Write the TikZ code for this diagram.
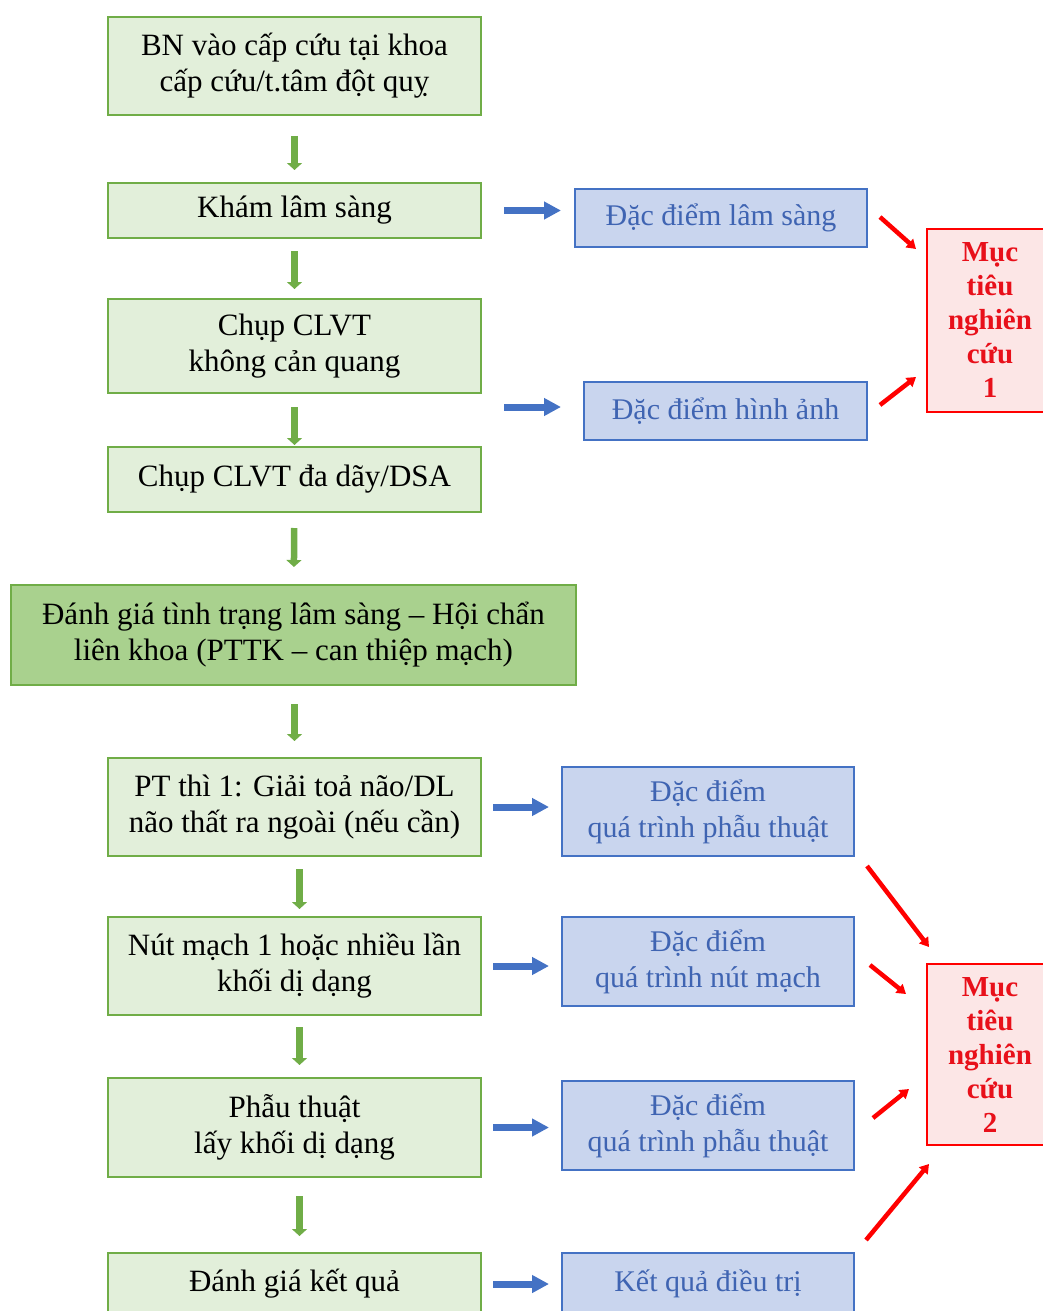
\documentclass[tikz,border=0pt]{standalone}
\usepackage{fontspec}
\setmainfont{Liberation Serif}
\usetikzlibrary{arrows.meta}
\definecolor{gfill}{HTML}{E2EFDA}
\definecolor{gdark}{HTML}{A9D18E}
\definecolor{gline}{HTML}{70AD47}
\definecolor{bfill}{HTML}{C9D5EE}
\definecolor{bline}{HTML}{4472C4}
\definecolor{btext}{HTML}{3F64B2}
\definecolor{rfill}{HTML}{FCE6E6}
\definecolor{rline}{HTML}{FF0000}
\definecolor{rtext}{HTML}{E8101A}
\tikzset{
  gbox/.style={draw=gline, line width=2pt, fill=gfill, align=center, inner sep=0pt,
    font=\fontsize{31}{36}\selectfont, text=black},
  bbox/.style={draw=bline, line width=2pt, fill=bfill, align=center, inner sep=0pt,
    font=\fontsize{30}{36}\selectfont, text=btext},
  rbox/.style={draw=rline, line width=2pt, fill=rfill, align=center, inner sep=0pt,
    font=\fontsize{29}{34}\selectfont\bfseries, text=rtext},
  garrow/.style={draw=gline, line width=6.5pt, -{Triangle[length=7pt,width=15pt]}},
  barrow/.style={draw=bline, line width=7pt, -{Triangle[length=17pt,width=17pt]}},
  rarrow/.style={draw=rline, line width=4.5pt, -{Triangle[length=9pt,width=11pt]}},
}
\begin{document}
\begin{tikzpicture}[x=1pt,y=-1pt]
\useasboundingbox (0,0) rectangle (1043,1311);
\clip (0,0) rectangle (1043,1311);
% green boxes
\node[gbox, minimum width=373pt, minimum height=98pt] (n1) at (294.5,66) {BN vào cấp cứu tại khoa\\cấp cứu/t.tâm đột quỵ};
\node[gbox, minimum width=373pt, minimum height=55pt] (n2) at (294.5,210.5) {Khám lâm sàng};
\node[gbox, minimum width=373pt, minimum height=94pt] (n3) at (294.5,346) {Chụp CLVT\\không cản quang};
\node[gbox, minimum width=373pt, minimum height=65pt] (n4) at (294.5,479.5) {Chụp CLVT đa dãy/DSA};
\node[gbox, fill=gdark, minimum width=565pt, minimum height=100pt] (n5) at (293.5,635) {Đánh giá tình trạng lâm sàng – Hội chẩn\\liên khoa (PTTK – can thiệp mạch)};
\node[gbox, minimum width=373pt, minimum height=98pt] (n6) at (294.5,807) {PT thì 1: Giải toả não/DL\\não thất ra ngoài (nếu cần)};
\node[gbox, minimum width=373pt, minimum height=98pt] (n7) at (294.5,966) {Nút mạch 1 hoặc nhiều lần\\khối dị dạng};
\node[gbox, minimum width=373pt, minimum height=99pt] (n8) at (294.5,1127.5) {Phẫu thuật\\lấy khối dị dạng};
\node[gbox, minimum width=373pt, minimum height=62pt] (n9) at (294.5,1284) {Đánh giá kết quả};
% blue boxes
\node[bbox, minimum width=292pt, minimum height=58pt] (b1) at (721,218) {Đặc điểm lâm sàng};
\node[bbox, minimum width=283pt, minimum height=58pt] (b2) at (725.5,411) {Đặc điểm hình ảnh};
\node[bbox, minimum width=292pt, minimum height=89pt] (b3) at (708,811.5) {Đặc điểm\\quá trình phẫu thuật};
\node[bbox, minimum width=292pt, minimum height=89pt] (b4) at (708,961.5) {Đặc điểm\\quá trình nút mạch};
\node[bbox, minimum width=292pt, minimum height=89pt] (b5) at (708,1125.5) {Đặc điểm\\quá trình phẫu thuật};
\node[bbox, minimum width=292pt, minimum height=62pt] (b6) at (708,1284) {Kết quả điều trị};
% red boxes
\node[rbox, minimum width=126pt, minimum height=183pt] (r1) at (990,320.5) {Mục\\tiêu\\nghiên\\cứu\\1};
\node[rbox, minimum width=126pt, minimum height=181pt] (r2) at (990,1054.5) {Mục\\tiêu\\nghiên\\cứu\\2};
% green arrows
\draw[garrow, shorten <=20pt, shorten >=12pt] (n1) -- (n2);
\draw[garrow, shorten <=12pt, shorten >=9pt] (n2) -- (n3);
\draw[garrow, shorten <=13pt, shorten >=1pt] (n3) -- (n4);
\draw[garrow, shorten <=15pt, shorten >=17pt] (n4) -- (n5);
\draw[garrow, shorten <=18pt, shorten >=16pt] (n5.south -| n6) -- (n6);
\draw[garrow, shorten <=12pt, shorten >=7pt] ([xshift=5pt]n6.south) -- ([xshift=5pt]n7.north);
\draw[garrow, shorten <=11pt, shorten >=12pt] ([xshift=5pt]n7.south) -- ([xshift=5pt]n8.north);
\draw[garrow, shorten <=18pt, shorten >=16pt] ([xshift=5pt]n8.south) -- ([xshift=5pt]n9.north);
% blue arrows
\draw[barrow, shorten <=22pt, shorten >=13pt] (n2.east) -- (n2.east -| b1.west);
\draw[barrow, shorten <=22pt, shorten >=22pt] ([yshift=4pt]b2.west -| n3.east) -- ([yshift=4pt]b2.west);
\draw[barrow, shorten <=11pt, shorten >=12pt] (n6.east) -- (n6.east -| b3.west);
\draw[barrow, shorten <=11pt, shorten >=12pt] (n7.east) -- (n7.east -| b4.west);
\draw[barrow, shorten <=11pt, shorten >=12pt] (n8.east) -- (n8.east -| b5.west);
\draw[barrow, shorten <=11pt, shorten >=12pt] (n9.east) -- (n9.east -| b6.west);
% red arrows
\coordinate (a1s) at (880,217); \coordinate (a1e) at (916,249);
\coordinate (a2s) at (880,405); \coordinate (a2e) at (916,377);
\coordinate (a3s) at (867,866); \coordinate (a3e) at (929,947);
\coordinate (a4s) at (870,965); \coordinate (a4e) at (906,994);
\coordinate (a5s) at (873,1118); \coordinate (a5e) at (909,1089);
\coordinate (a6s) at (866,1240); \coordinate (a6e) at (929,1164);
\draw[rarrow] (a1s) -- (a1e);
\draw[rarrow] (a2s) -- (a2e);
\draw[rarrow] (a3s) -- (a3e);
\draw[rarrow] (a4s) -- (a4e);
\draw[rarrow] (a5s) -- (a5e);
\draw[rarrow] (a6s) -- (a6e);
\end{tikzpicture}
\end{document}
